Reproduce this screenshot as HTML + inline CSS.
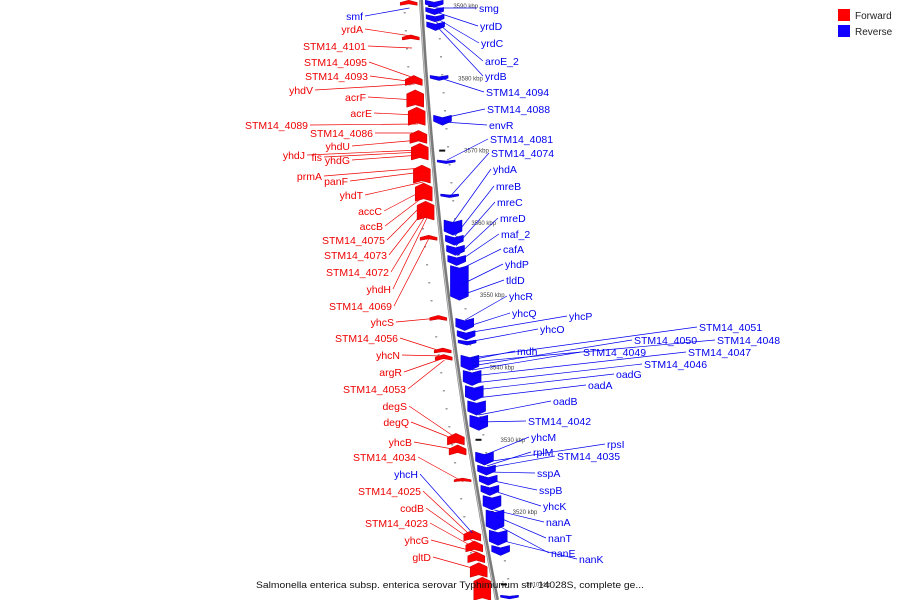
<!DOCTYPE html>
<html><head><meta charset="utf-8"><style>
html,body{margin:0;padding:0;background:#fff}
svg{display:block;font-family:"Liberation Sans",sans-serif}
</style></head><body>
<svg id="chart" width="900" height="600" viewBox="0 0 900 600"></svg>
<script>
// --- data ---
const forwardGenes = [[3590.8,3590.1],[3586.0,3585.3],[3580.4,3579.0],[3578.4,3576.0],[3576.0,3573.5],[3572.8,3571.0],[3571.0,3568.7],[3568.0,3565.5],[3565.5,3563.0],[3563.0,3560.4],[3558.3,3557.6],[3547.2,3546.5],[3542.7,3542.0],[3541.8,3541.0],[3530.9,3529.3],[3529.3,3527.9],[3524.7,3524.2],[3517.5,3516.0],[3516,3514.5],[3514.5,3513],[3513,3511],[3511,3507.8]];
const reverseGenes = [[3590.8,3589.8],[3589.8,3588.8],[3588.8,3587.8],[3587.8,3586.6],[3580.4,3579.7],[3574.9,3573.5],[3568.7,3568.2],[3564.0,3563.5],[3560.4,3558.3],[3558.3,3556.9],[3556.9,3555.5],[3555.5,3554.1],[3554.1,3549.3],[3546.8,3545.1],[3545.1,3543.8],[3543.8,3543.1],[3541.7,3539.6],[3539.6,3537.5],[3537.5,3535.4],[3535.4,3533.4],[3533.4,3531.3],[3528.3,3526.5],[3526.5,3525.1],[3525.1,3523.7],[3523.7,3522.3],[3522.3,3520.3],[3520.3,3517.5],[3517.5,3515.4],[3515.4,3514.0],[3508.5,3508.0]];
const tickKbp = [3590,3580,3570,3560,3550,3540,3530,3520,3510];
const leftNames = ["smf","yrdA","STM14_4101","STM14_4095","STM14_4093","yhdV","acrF","acrE","STM14_4089","STM14_4086","yhdU","yhdJ","fis","yhdG","prmA","panF","yhdT","accC","accB","STM14_4075","STM14_4073","STM14_4072","yhdH","STM14_4069","yhcS","STM14_4056","yhcN","argR","STM14_4053","degS","degQ","yhcB","STM14_4034","yhcH","STM14_4025","codB","STM14_4023","yhcG","gltD"];
const leftStrand = [0,1,1,1,1,1,1,1,1,1,1,1,1,1,1,1,1,1,1,1,1,1,1,1,1,1,1,1,1,1,1,1,1,0,1,1,1,1,1];
const leftLabelX = [363,363,366,367,368,313,366,372,308,373,350,305,322,350,322,348,363,382,383,385,387,389,391,392,394,398,400,402,406,407,409,412,416,418,421,424,428,429,431];
const leftLabelY = [20,33,50,66,80,94,101,117,129,137,150,159,161,164,180,185,199,215,230,244,259,276,293,310,326,342,359,376,393,410,426,446,461,478,495,512,527,544,561];
const leftTargetY = [8,36,48,78,82,84,100,115,124,133,140,150,152,155,168,172,182,190,196,202,208,214,218,238,318,352,356,358,360,438,440,450,482,533,538,542,548,552,570];
const rightNames = ["smg","yrdD","yrdC","aroE_2","yrdB","STM14_4094","STM14_4088","envR","STM14_4081","STM14_4074","yhdA","mreB","mreC","mreD","maf_2","cafA","yhdP","tldD","yhcR","yhcQ","yhcP","yhcO","STM14_4051","STM14_4048","STM14_4050","mdh","STM14_4049","STM14_4047","STM14_4046","oadG","oadA","oadB","STM14_4042","yhcM","rpsI","rplM","STM14_4035","sspA","sspB","yhcK","nanA","nanT","nanE","nanK"];
const rightLabelX = [479,480,481,485,485,486,487,489,490,491,493,496,497,500,501,503,505,506,509,512,569,540,699,717,634,517,583,688,644,616,588,553,528,531,607,533,557,537,539,543,546,548,551,579];
const rightLabelY = [12,30,47,65,80,96,113,129,143,157,173,190,206,222,238,253,268,284,300,317,320,333,331,344,344,355,356,356,368,378,389,405,425,441,448,456,460,477,494,510,526,542,557,563];
const rightTargetY = [8,12,18,22,26,78,118,122,160,196,222,236,246,256,262,270,285,295,320,327,333,342,358,362,366,360,370,376,383,390,398,415,422,455,462,466,468,472,480,490,510,516,525,540];

// --- axes ---
const kbpToY = k => 6 + (3590 - k) * 7.23;
const lineX = y => 421 + 0.0567*y + 1.167e-4*y*y;
const NS = "http://www.w3.org/2000/svg";
const svg = document.getElementById('chart');
function mk(tag, attrs, parent){const e=document.createElementNS(NS,tag);for(const k in attrs)e.setAttribute(k,attrs[k]);(parent||svg).appendChild(e);return e;}

let d="";for(let y=0;y<=600;y+=10){d+=(y?"L":"M")+lineX(y).toFixed(1)+" "+y;}
const bb=mk('path',{d:d,stroke:'#7a7a7a','stroke-width':4,fill:'none'});


const bb2=mk('path',{d:d,stroke:'#c8c8c8','stroke-width':1,fill:'none',transform:'translate(-1,0)'});



tickKbp.forEach(k=>{
  const y=kbpToY(k), x=lineX(y);
  const t=mk('rect',{x:x+7,y:y-1,width:6,height:2,fill:'#111'});
  
  
  const tx=mk('text',{x:x+32,y:y+2,'font-size':6,fill:'#444'});
  tx.textContent=k+" kbp";
  
  
});
for(let y=12;y<600;y+=18){
  const x=lineX(y);
  const dl=mk('rect',{x:x-18,y:y,width:2,height:1.5,fill:'#999'});
  
  
  const dr=mk('rect',{x:x+16,y:y+8,width:2,height:1.5,fill:'#999'});
  
  
}

function gene(s,e,strand){
  const y1=kbpToY(s), y2=kbpToY(e), h=y2-y1, c=(y1+y2)/2, x=lineX(c);
  const a=Math.min(4,h*0.45);
  let pts;
  if(strand>0){ const L=x-21,R=x-4;
    pts=[[L,y2],[L,y1+a],[(L+R)/2,y1],[R,y1+a],[R,y2],[(L+R)/2,y2-a*0.6]];
  } else { const L=x+4,R=x+22;
    pts=[[L,y1],[(L+R)/2,y1+a*0.6],[R,y1],[R,y2-a],[(L+R)/2,y2],[L,y2-a]];
  }
  const p=mk('polygon',{points:pts.map(q=>q[0].toFixed(1)+","+q[1].toFixed(1)).join(" "),fill:strand>0?'#f00':'#10f',stroke:strand>0?'#b00':'#00b','stroke-width':0.5});
  
  
}
forwardGenes.forEach(g=>gene(g[0],g[1],1));
reverseGenes.forEach(g=>gene(g[0],g[1],-1));

leftNames.forEach((n,i)=>{
  const col=leftStrand[i]?'#e00':'#00e';
  const ty=leftTargetY[i];
  const ln=mk('line',{x1:leftLabelX[i]+2,y1:leftLabelY[i]-4,x2:lineX(ty)-12,y2:ty,stroke:col,'stroke-width':0.7});
  
  
  const t=mk('text',{x:leftLabelX[i],y:leftLabelY[i],'text-anchor':'end','font-size':10.5,fill:col});
  t.textContent=n;
  
  
});
rightNames.forEach((n,i)=>{
  const ty=rightTargetY[i];
  const ln=mk('line',{x1:rightLabelX[i]-2,y1:rightLabelY[i]-4,x2:lineX(ty)+14,y2:ty,stroke:'#00e','stroke-width':0.7});
  
  
  const t=mk('text',{x:rightLabelX[i],y:rightLabelY[i],'font-size':10.5,fill:'#00e'});
  t.textContent=n;
  
  
});
</script>
<svg width="900" height="600" style="position:absolute;left:0;top:0;font-family:'Liberation Sans',sans-serif">
  <rect x="838" y="9" width="12" height="12" fill="#f00"/>
  <text x="855" y="19" font-size="10" fill="#222">Forward</text>
  <rect x="838" y="25" width="12" height="12" fill="#10f"/>
  <text x="855" y="35" font-size="10" fill="#222">Reverse</text>
  <text x="256" y="588" font-size="9.5" fill="#111" textLength="388" lengthAdjust="spacingAndGlyphs">Salmonella enterica subsp. enterica serovar Typhimurium str. 14028S, complete ge...</text>
</svg>
</body></html>
